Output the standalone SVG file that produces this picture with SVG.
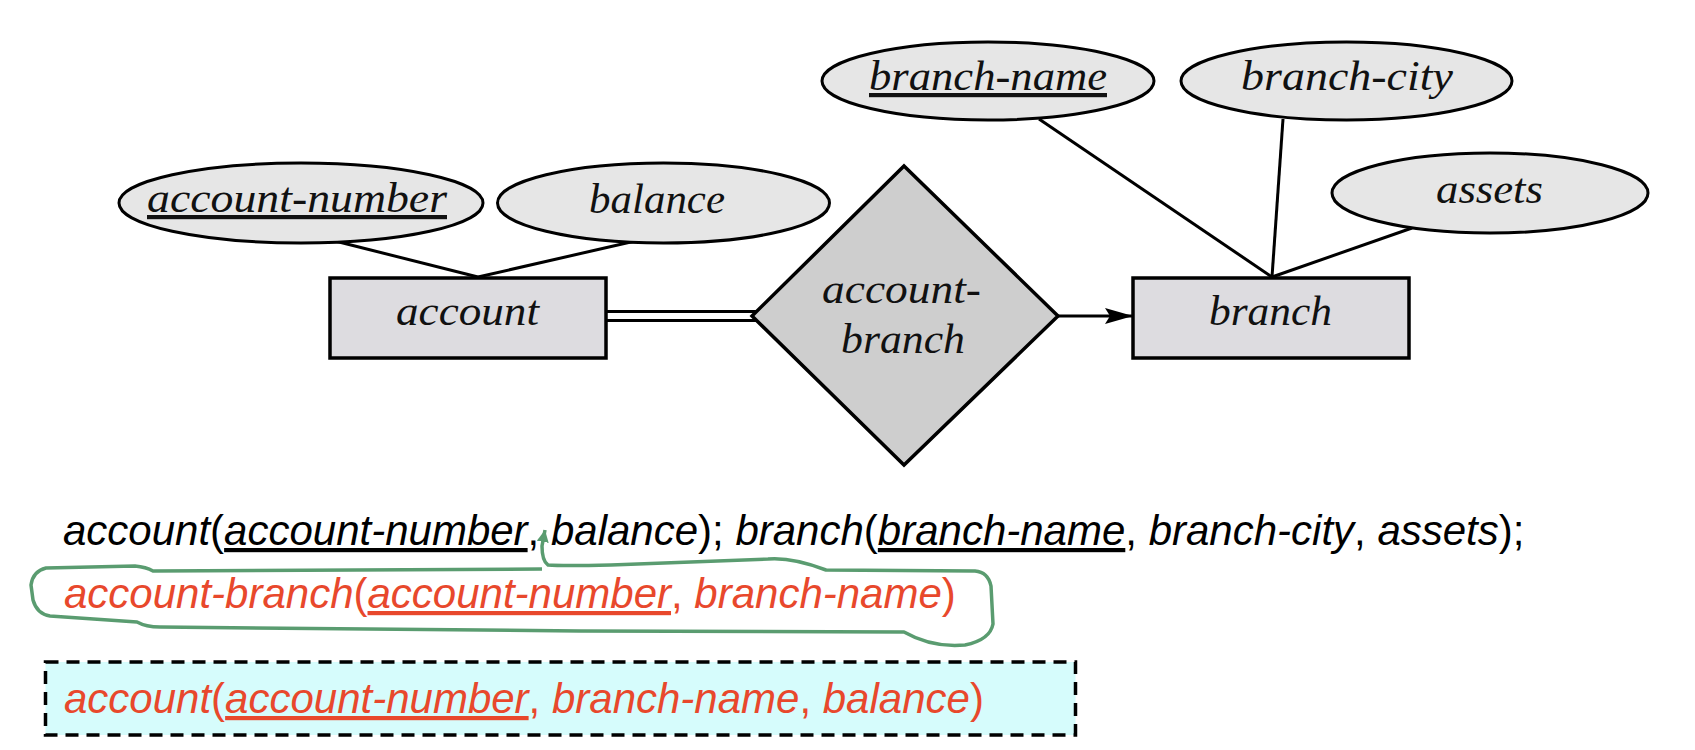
<svg xmlns="http://www.w3.org/2000/svg" width="1695" height="750" viewBox="0 0 1695 750">
<style>
.attr{fill:#e6e6e6;stroke:#000;stroke-width:3}
.ent{fill:#dddce0;stroke:#000;stroke-width:3.5}
.rel{fill:#cecece;stroke:#000;stroke-width:3.5}
.lbl{font-family:"Liberation Serif",serif;font-style:italic;font-size:42px;fill:#111}
.ln{stroke:#000;stroke-width:3;fill:none}
.rs{font-family:"Liberation Sans",Arial,sans-serif;font-style:italic;font-size:42px}
.p{font-style:normal}
.u{text-decoration:underline}
</style>
<defs>
<marker id="ah" markerUnits="userSpaceOnUse" markerWidth="30" markerHeight="18" refX="28" refY="8" orient="auto">
<path d="M0,0 L28,8 L0,16 L5,8 z" fill="#000"/>
</marker>
<marker id="gh" markerUnits="userSpaceOnUse" markerWidth="14" markerHeight="14" refX="12" refY="6" orient="auto">
<path d="M0,0 L12,6 L0,12 z" fill="#5a9c70"/>
</marker>
</defs>
<rect width="1695" height="750" fill="#fff"/>
<g id="connectors">
<line class="ln" x1="337" y1="241.5" x2="478" y2="277"/>
<line class="ln" x1="633" y1="241.5" x2="478" y2="277"/>
<line class="ln" x1="1039" y1="119" x2="1272" y2="277"/>
<line class="ln" x1="1283" y1="119" x2="1272" y2="277"/>
<line class="ln" x1="1412" y1="228" x2="1272" y2="277"/>
<line class="ln" x1="606" y1="311.5" x2="756" y2="311.5"/>
<line class="ln" x1="606" y1="320.5" x2="756" y2="320.5"/>
<line x1="1058" y1="316" x2="1133" y2="316" stroke="#000" stroke-width="3.2" marker-end="url(#ah)"/>
</g>
<g id="attr-account-number">
<ellipse class="attr" cx="301" cy="203" rx="182" ry="40"/>
<text class="lbl u" x="147" y="212" textLength="300" lengthAdjust="spacingAndGlyphs">account-number</text>
</g>
<g id="attr-balance">
<ellipse class="attr" cx="663.5" cy="203" rx="166" ry="40"/>
<text class="lbl" x="589" y="213" textLength="136" lengthAdjust="spacingAndGlyphs">balance</text>
</g>
<g id="attr-branch-name">
<ellipse class="attr" cx="988" cy="81" rx="166" ry="39"/>
<text class="lbl u" x="869" y="90" textLength="238" lengthAdjust="spacingAndGlyphs">branch-name</text>
</g>
<g id="attr-branch-city">
<ellipse class="attr" cx="1346.5" cy="81" rx="165.5" ry="39"/>
<text class="lbl" x="1241" y="90" textLength="212" lengthAdjust="spacingAndGlyphs">branch-city</text>
</g>
<g id="attr-assets">
<ellipse class="attr" cx="1490" cy="193" rx="158" ry="40"/>
<text class="lbl" x="1436" y="203" textLength="107" lengthAdjust="spacingAndGlyphs">assets</text>
</g>
<g id="ent-account">
<rect class="ent" x="330" y="278" width="276" height="80"/>
<text class="lbl" x="396" y="325" textLength="143" lengthAdjust="spacingAndGlyphs">account</text>
</g>
<g id="ent-branch">
<rect class="ent" x="1133" y="278" width="276" height="80"/>
<text class="lbl" x="1209" y="325" textLength="123" lengthAdjust="spacingAndGlyphs">branch</text>
</g>
<g id="rel-account-branch">
<polygon class="rel" points="752,316 904,166 1058,316 904,465"/>
<text class="lbl" x="822" y="303" textLength="159" lengthAdjust="spacingAndGlyphs">account-</text>
<text class="lbl" x="841" y="353" textLength="124" lengthAdjust="spacingAndGlyphs">branch</text>
</g>
<g id="relations">
<text class="rs" x="63" y="545" fill="#000">account<tspan class="p">(</tspan><tspan class="u">account-number</tspan><tspan class="p">, </tspan>balance<tspan class="p">); </tspan>branch<tspan class="p">(</tspan><tspan class="u">branch-name</tspan><tspan class="p">, </tspan>branch-city<tspan class="p">, </tspan>assets<tspan class="p">);</tspan></text>
<path d="M542,569 L153,571 Q146,567 135,566 L46,568 Q33,571 31,585 L33,600 Q37,614 50,616 L137,622 Q146,627 160,627 L580,631 L904,632 Q932,648 965,645 Q990,640 993,624 L991,586 Q988,572 975,571 L826,570 Q792,557 768,559 L611,565 Q562,566 548,565 Q542,561 542,546 L545,530" fill="none" stroke="#5a9c70" stroke-width="3.5" stroke-linejoin="round" marker-end="url(#gh)"/>
<text class="rs" x="64" y="608" fill="#e8482c">account-branch<tspan class="p">(</tspan><tspan class="u">account-number</tspan><tspan class="p">, </tspan>branch-name<tspan class="p">)</tspan></text>
<rect x="45.5" y="662" width="1030" height="73" fill="#d6fcfc" stroke="#000" stroke-width="3.5" stroke-dasharray="13,8"/>
<text class="rs" x="64" y="713" fill="#e8482c">account<tspan class="p">(</tspan><tspan class="u">account-number</tspan><tspan class="p">, </tspan>branch-name<tspan class="p">, </tspan>balance<tspan class="p">)</tspan></text>
</g>
</svg>
